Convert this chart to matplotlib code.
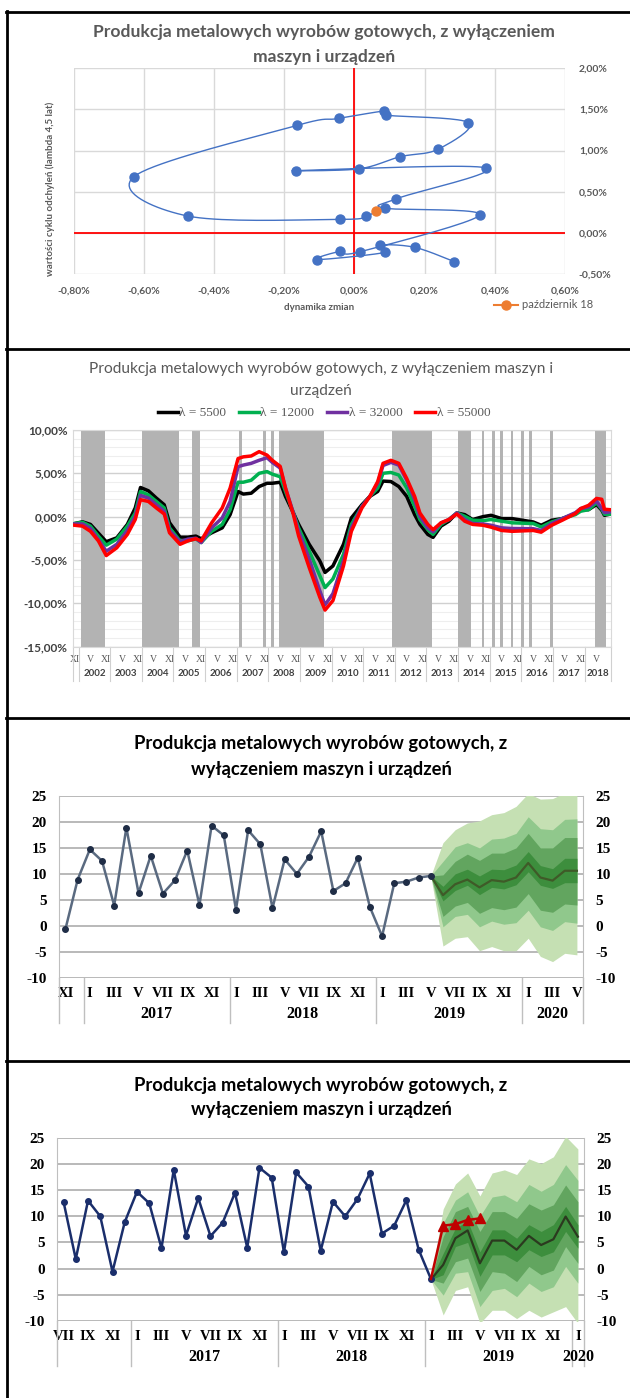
import numpy as np
import matplotlib
matplotlib.use("Agg")
import matplotlib.pyplot as plt
from matplotlib.lines import Line2D
from matplotlib.transforms import blended_transform_factory

# ---- panel 1: cycle vs. dynamics (%), Oct 2016 .. Oct 2018 ----
cycle_dyn = [0.285, 0.172, 0.074, 0.088, -0.107, -0.041, 0.016, 0.357, 0.087, 0.12,
             0.375, -0.166, 0.012, 0.131, 0.238, 0.325, 0.091, 0.085, -0.045, -0.164,
             -0.628, -0.475, -0.041, 0.034, 0.063]
cycle_val = [-0.35, -0.176, -0.15, -0.237, -0.325, -0.225, -0.23, 0.217, 0.30, 0.415,
             0.79, 0.756, 0.777, 0.926, 1.015, 1.34, 1.43, 1.48, 1.39, 1.305,
             0.683, 0.205, 0.164, 0.205, 0.27]

# ---- panel 2: HP cycles (%), month index counted from Nov 2001 ----
hp_month = [0, 3, 6, 9, 12, 16, 20, 23, 25, 28, 31, 34, 36, 40, 43, 46, 48, 52, 56, 59,
            62, 64, 67, 70, 73, 75, 78, 80, 83, 85, 89, 93, 95, 98, 102, 105, 109, 112, 115, 117,
            120, 123, 126, 129, 131, 134, 136, 139, 142, 145, 148, 151, 155, 158, 162, 166,
            174, 177, 181, 185, 190, 192, 195, 198, 200, 201, 203]
hp_5500 = [-0.8, -0.6, -0.9, -1.9, -2.9, -2.45, -0.9, 1.0, 3.36, 2.98, 2.14, 1.37, -0.7, -2.37, -2.37, -2.25, -2.56, -1.87, -1.3, 0.23,
           2.9, 2.6, 2.7, 3.47, 3.85, 3.85, 3.97, 2.33, 0.42, -0.9, -3.2, -5.1, -6.45, -5.7, -3.2, -0.15, 1.37, 2.33, 2.9, 4.1,
           4.05, 3.47, 2.33, 0.23, -0.9, -2.06, -2.4, -1.1, -0.53, 0.42, 0.23, -0.34, 0.0, 0.15, -0.23, -0.23,
           -0.62, -1.0, -0.42, -0.23, 0.35, 0.8, 0.8, 1.4, 0.73, 0.15, 0.27]
hp_12000 = [-0.8, -0.65, -1.1, -2.25, -3.3, -2.6, -1.1, 0.42, 2.9, 2.5, 1.75, 1.0, -1.3, -2.8, -2.8, -2.56, -3.0, -1.7, -0.9, 0.8,
            3.97, 3.97, 4.2, 5.0, 5.2, 4.9, 4.6, 2.9, 0.42, -1.3, -3.97, -6.8, -8.2, -7.2, -4.35, -0.9, 1.18, 2.33, 3.3, 5.0,
            5.1, 4.8, 3.3, 1.18, -0.34, -1.5, -2.06, -0.9, -0.34, 0.42, 0.04, -0.42, -0.46, -0.34, -0.53, -0.72,
            -0.8, -1.2, -0.62, -0.23, 0.23, 0.62, 0.8, 1.6, 0.85, 0.27, 0.27]
hp_32000 = [-0.85, -0.85, -1.37, -2.63, -4.0, -3.2, -1.6, 0.04, 2.45, 2.14, 1.37, 0.6, -1.6, -2.9, -2.6, -2.5, -3.0, -1.3, -0.15, 1.75,
            5.76, 5.95, 6.15, 6.5, 6.8, 6.26, 5.6, 3.3, 0.42, -1.7, -4.9, -8.55, -10.2, -8.9, -5.1, -1.3, 1.18, 2.33, 3.85, 5.9,
            6.26, 5.95, 4.2, 1.95, 0.04, -1.3, -1.75, -0.72, -0.34, 0.42, -0.34, -0.8, -0.85, -1.0, -1.3, -1.37,
            -1.4, -1.6, -0.8, -0.23, 0.46, 0.93, 1.1, 1.8, 0.93, 0.46, 0.54]
hp_55000 = [-1.0, -1.1, -1.7, -2.8, -4.5, -3.6, -2.06, -0.34, 1.95, 1.75, 1.0, 0.3, -1.87, -3.2, -2.8, -2.56, -2.8, -0.72, 1.0, 3.3,
            6.7, 6.9, 7.0, 7.5, 7.1, 6.5, 5.8, 3.3, 0.23, -2.25, -5.88, -9.3, -10.8, -9.7, -5.7, -1.7, 1.0, 2.33, 4.05, 6.15,
            6.5, 6.15, 4.4, 2.33, 0.42, -0.9, -1.5, -0.72, -0.34, 0.3, -0.53, -0.9, -1.0, -1.22, -1.6, -1.7,
            -1.6, -1.8, -1.0, -0.42, 0.35, 0.93, 1.3, 2.1, 2.0, 0.85, 0.8]
hp_labels = ["λ = 5500", "λ = 12000", "λ = 32000", "λ = 55000"]
rec_start = ["2002-02", "2004-01", "2005-08", "2007-02", "2007-11", "2008-02", "2008-05", "2011-12", "2014-01",
             "2014-10", "2015-02", "2015-05", "2015-09", "2016-01", "2016-04", "2016-12", "2018-05"]
rec_end = ["2002-10", "2005-02", "2005-10", "2007-02", "2007-11", "2008-02", "2009-09", "2013-02", "2014-05",
           "2014-10", "2015-02", "2015-05", "2015-09", "2016-01", "2016-04", "2016-12", "2018-08"]

# ---- panels 3, 4: y/y production, Jul 2016 .. May 2019 ----
prod_yoy = [12.8, 1.8, 13.0, 10.0, -0.6, 8.9,
            14.7, 12.5, 3.9, 18.9, 6.3, 13.5, 6.2, 8.8, 14.5, 4.0, 19.3, 17.4,
            3.1, 18.4, 15.7, 3.4, 12.8, 10.0, 13.3, 18.2, 6.7, 8.2, 13.1, 3.6,
            -2.0, 8.2, 8.5, 9.3, 9.6]

# fan from May 2019 to May 2020 (panel 3)
fan3_c = [9.6, 5.9, 8.0, 8.9, 7.4, 8.8, 8.5, 9.3, 12.1, 9.3, 8.7, 10.6, 10.6]
fan3_u1 = [9.6, 7.6, 10.0, 10.9, 9.6, 10.9, 10.8, 11.7, 14.3, 11.6, 11.0, 13.0, 13.0]
fan3_u2 = [9.6, 9.8, 12.4, 13.8, 12.6, 14.0, 14.0, 15.0, 17.8, 15.0, 15.0, 17.0, 17.0]
fan3_u3 = [9.6, 12.4, 15.2, 16.0, 15.0, 16.7, 16.9, 17.8, 21.0, 18.7, 18.5, 20.5, 20.6]
fan3_u4 = [9.6, 16.0, 18.5, 19.8, 20.2, 21.4, 21.8, 23.0, 25.5, 24.4, 24.5, 25.6, 25.5]
fan3_l1 = [9.6, 4.8, 6.8, 7.8, 6.0, 7.4, 7.1, 7.9, 10.4, 7.8, 7.2, 8.3, 8.3]
fan3_l2 = [9.6, 1.8, 3.8, 4.5, 2.4, 3.5, 3.1, 3.6, 6.2, 3.0, 2.6, 4.2, 4.0]
fan3_l3 = [9.6, -0.2, 1.8, 2.2, -0.2, 0.9, 0.3, 0.6, 3.0, -0.2, -0.9, 0.8, 0.5]
fan3_l4 = [9.6, -3.9, -2.4, -2.1, -4.8, -4.0, -4.8, -4.8, -2.4, -5.9, -6.9, -5.3, -5.6]

# fan from Jan 2019 to Jan 2020 (panel 4)
fan4_c = [-2.1, 0.7, 5.8, 7.3, 1.0, 5.35, 5.35, 3.6, 6.25, 4.5, 5.6, 9.95, 6.1]
fan4_u1 = [-2.1, 2.9, 7.7, 9.1, 3.2, 7.4, 7.4, 5.8, 8.4, 7.1, 8.4, 11.9, 8.4]
fan4_u2 = [-2.1, 6.1, 10.9, 11.9, 7.1, 10.9, 10.9, 9.6, 12.4, 11.2, 12.2, 16.0, 12.8]
fan4_u3 = [-2.1, 8.7, 13.1, 14.7, 10.0, 13.7, 14.1, 12.8, 16.1, 14.8, 16.1, 19.9, 16.9]
fan4_u4 = [-2.1, 11.4, 16.2, 18.3, 13.9, 18.3, 18.9, 18.0, 21.0, 20.1, 21.4, 25.3, 22.9]
fan4_l1 = [-2.1, -1.2, 4.2, 5.0, -1.5, 2.6, 2.6, 1.3, 3.6, 2.3, 3.2, 7.1, 3.9]
fan4_l2 = [-2.1, -2.8, 1.3, 2.0, -4.4, -0.6, -0.9, -2.5, 0.4, -1.2, -0.3, 4.2, 1.0]
fan4_l3 = [-2.1, -5.1, -0.9, -0.6, -7.3, -4.2, -3.8, -5.4, -2.8, -4.4, -3.5, 0.4, -2.8]
fan4_l4 = [-2.1, -8.9, -4.2, -3.5, -10.5, -8.0, -8.0, -9.6, -8.0, -9.3, -8.3, -7.3, -10.5]

ROMAN = ["I", "II", "III", "IV", "V", "VI", "VII", "VIII", "IX", "X", "XI", "XII"]
SANS = ["Lato", "DejaVu Sans"]
SERIF = ["Liberation Serif", "DejaVu Serif"]
plt.rcParams["font.family"] = SANS

W, H = 630, 1398
fig = plt.figure(figsize=(W / 100, H / 100), dpi=100)


def fy(y):
    return 1 - y / H


def add_ax(l, t, r, b):
    return fig.add_axes([l / W, 1 - b / H, (r - l) / W, (b - t) / H])


def pct(v):
    if abs(v) < 1e-9:
        v = 0.0
    return f"{v:.2f}%".replace(".", ",")


def smooth_path(xs, ys, n=20):
    # Catmull-Rom curve through the points (like Excel's smoothed line)
    pts = np.column_stack([xs, ys])
    p = np.vstack([pts[0], pts, pts[-1]])
    t = np.linspace(0, 1, n, endpoint=False)[:, None]
    out = []
    for i in range(1, len(p) - 2):
        p0, p1, p2, p3 = p[i - 1], p[i], p[i + 1], p[i + 2]
        out.append(0.5 * (2 * p1 + (p2 - p0) * t + (2 * p0 - 5 * p1 + 4 * p2 - p3) * t ** 2
                          + (3 * p1 - p0 - 3 * p2 + p3) * t ** 3))
    out.append(pts[-1:])
    return np.vstack(out)


def month_idx(s, y0, m0):
    y, m = map(int, s.split("-"))
    return (y - y0) * 12 + (m - m0)


# frame lines
fig.add_artist(Line2D([6.5 / W, 6.5 / W], [fy(11), 0], color="black", lw=2))
for yy in [11.5, 348.5, 718, 1061]:
    fig.add_artist(Line2D([6 / W, 1], [fy(yy), fy(yy)], color="black", lw=2))

# ================= panel 1 =================
ax1 = add_ax(73.5, 68.3, 565, 274)
ax1.set_xlim(-0.8, 0.6)
ax1.set_ylim(-0.5, 2.0)
xt = np.round(np.arange(-0.8, 0.61, 0.2), 2)
yt = np.round(np.arange(-0.5, 2.01, 0.5), 2)
ax1.set_xticks(xt, [pct(v) for v in xt], fontweight="bold", color="#595959", fontsize=7.5)
ax1.set_yticks(yt, [pct(v) for v in yt], fontweight="bold", color="#595959", fontsize=7.5)
ax1.yaxis.tick_right()
ax1.tick_params(axis="x", length=0, pad=9)
ax1.tick_params(axis="y", length=0, pad=10)
ax1.grid(True, color="#d9d9d9", lw=1)
ax1.set_axisbelow(True)
for s in ax1.spines.values():
    s.set_visible(False)
ax1.axvline(0, color="#ff0000", lw=1.3, zorder=2)
ax1.axhline(0, color="#ff0000", lw=1.3, zorder=2)
path = smooth_path(cycle_dyn, cycle_val)
ax1.plot(path[:, 0], path[:, 1], color="#4472c4", lw=1, zorder=3)
ax1.plot(cycle_dyn[:-1], cycle_val[:-1], "o", color="#4472c4", ms=6.5, zorder=4)
last, = ax1.plot(cycle_dyn[-1:], cycle_val[-1:], "o-", color="#ed7d31", ms=6.5, zorder=5)
ax1.legend([last], ["październik 18"], loc="center left", bbox_to_anchor=(484 / W, fy(305)),
           bbox_transform=fig.transFigure, frameon=False, handlelength=2.2, handletextpad=0.3,
           prop={"family": SANS, "size": 8}, labelcolor="#595959")
fig.text(324 / W, fy(32), "Produkcja metalowych wyrobów gotowych, z wyłączeniem",
         ha="center", va="center", fontsize=12.6, fontweight="bold", color="#595959")
fig.text(324 / W, fy(57), "maszyn i urządzeń",
         ha="center", va="center", fontsize=12.6, fontweight="bold", color="#595959")
fig.text(319 / W, fy(307), "dynamika zmian", ha="center", va="center",
         fontsize=7, fontweight="bold", color="#595959")
fig.text(50 / W, fy(189), "wartości cyklu odchyleń (lambda 4,5 lat)", ha="center", va="center",
         rotation=90, fontsize=7, fontweight="bold", color="#595959")

# ================= panel 2 =================
ax2 = add_ax(73.3, 430, 611, 646.5)
n_months = 204
ax2.set_xlim(0, n_months)
ax2.set_ylim(-15, 10)
for a, b in zip(rec_start, rec_end):
    ax2.axvspan(month_idx(a, 2001, 11), month_idx(b, 2001, 11) + 1, color="#b3b3b3", lw=0, zorder=1)
ax2.set_yticks(np.arange(-15, 11, 1), minor=True)
yt2 = np.arange(-15, 11, 5)
ax2.set_yticks(yt2, [pct(v) for v in yt2], fontweight="bold", color="#404040", fontsize=8.5)
ax2.grid(True, axis="y", which="minor", color="#eeeeee", lw=0.8, zorder=0)
ax2.grid(True, axis="y", which="major", color="#d0d0d0", lw=1, zorder=0)
ax2.set_axisbelow(True)
ax2.tick_params(axis="y", which="both", length=0, pad=4)
for s in ax2.spines.values():
    s.set_color("#d9d9d9")
hx = np.array(hp_month) + 0.5
colors2 = ["#000000", "#00b050", "#7030a0", "#ff0000"]
handles = []
for vals, col, lab in zip([hp_5500, hp_12000, hp_32000, hp_55000], colors2, hp_labels):
    h, = ax2.plot(hx, vals, color=col, lw=2.5, zorder=3, label=lab)
    handles.append(h)
mt = np.arange(0, n_months, 6)
ax2.set_xticks(mt + 0.5, [ROMAN[(10 + i) % 12] for i in mt], family=SERIF, fontsize=7, color="#595959")
ax2.tick_params(axis="x", length=0, pad=6)
tr2 = blended_transform_factory(ax2.transData, fig.transFigure)
for yr in range(2002, 2019):
    s0 = max(0, (yr - 2001) * 12 - 10)
    s1 = min(n_months, s0 + 12)
    ax2.text((s0 + s1) / 2, fy(674), str(yr), transform=tr2, ha="center", va="center",
             fontsize=7, fontweight="bold", color="#404040")
for xb in [0] + list(range(2, n_months, 12)) + [n_months]:
    ax2.add_line(Line2D([xb, xb], [fy(646.5), fy(681)], transform=tr2, color="#d0d0d0",
                        lw=0.8, clip_on=False))
fig.legend(handles=handles, loc="center", bbox_to_anchor=(324 / W, fy(413)), ncol=4, frameon=False,
           handlelength=1.5, handletextpad=0.1, columnspacing=1.0,
           prop={"family": SERIF, "size": 9.5}, labelcolor="#595959")
fig.text(321 / W, fy(369), "Produkcja metalowych wyrobów gotowych, z wyłączeniem maszyn i",
         ha="center", va="center", fontsize=11.2, color="#595959")
fig.text(321 / W, fy(391), "urządzeń", ha="center", va="center", fontsize=11.2, color="#595959")


# ================= panels 3 & 4 =================
FAN_COLORS = ["#c5e0b3", "#90c88c", "#62a55f", "#3d8e3d"]


def fan_panel(l, t, r, b, start_month, actual, line_col, dot_col, fan, center_col, title_y):
    ax = add_ax(l, t, r, b)
    n = 43
    ax.set_xlim(0, n)
    ax.set_ylim(-10, 25)
    yt = np.arange(-10, 26, 5)
    ax.set_yticks(yt, [str(v) for v in yt], family=SERIF, fontweight="bold", fontsize=11)
    ax.tick_params(axis="y", length=0, labelright=True, pad=9)
    ax.grid(True, axis="y", color="#a6a6a6", lw=1.1)
    ax.set_axisbelow(True)
    for k in ["top", "bottom"]:
        ax.spines[k].set_visible(False)
    for k in ["left", "right"]:
        ax.spines[k].set_color("#bfbfbf")
    fx = np.arange(30, 43) + 0.5
    c, u1, u2, u3, u4, l1, l2, l3, l4 = fan
    for lo, hi, col in zip([l4, l3, l2, l1], [u4, u3, u2, u1], FAN_COLORS):
        ax.fill_between(fx, lo, hi, color=col, lw=0, zorder=1)
    ax.plot(fx, c, color=center_col, lw=1.6, zorder=2)
    ax.plot(np.arange(len(actual)) + 0.5, actual, color=line_col, lw=1.8, zorder=3,
            marker="o", ms=4, mfc=dot_col, mec=dot_col)
    mt = np.arange(0, n, 2)
    ax.set_xticks(mt + 0.5, [ROMAN[(start_month - 1 + i) % 12] for i in mt],
                  family=SERIF, fontweight="bold", fontsize=10.5)
    ax.tick_params(axis="x", length=0, pad=7)
    tr = blended_transform_factory(ax.transData, fig.transFigure)
    jan = [i for i in range(n) if (start_month - 1 + i) % 12 == 0]
    for j in jan:
        yr = 2016 + (start_month - 1 + j) // 12
        ax.text((j + min(n, j + 12)) / 2, fy(b + 36), str(yr), transform=tr, ha="center", va="center",
                family=SERIF, fontweight="bold", fontsize=11.5)
    for xb in [0] + jan + [n]:
        ax.add_line(Line2D([xb, xb], [fy(b), fy(b + 45)], transform=tr, color="#bfbfbf",
                           lw=1, clip_on=False))
    fig.text(321 / W, fy(title_y), "Produkcja metalowych wyrobów gotowych, z",
             ha="center", va="center", fontsize=13.2, fontweight="bold")
    fig.text(321 / W, fy(title_y + 25), "wyłączeniem maszyn i urządzeń",
             ha="center", va="center", fontsize=13.2, fontweight="bold")
    return ax


fan_panel(59.4, 796, 583, 977.7, 11, prod_yoy[4:], "#5a6a80", "#1f2d46",
          [fan3_c, fan3_u1, fan3_u2, fan3_u3, fan3_u4, fan3_l1, fan3_l2, fan3_l3, fan3_l4],
          "#3f5a28", 744)
ax4 = fan_panel(57.4, 1138, 584, 1320.7, 7, prod_yoy[:31], "#1a2e6b", "#1a2e6b",
                [fan4_c, fan4_u1, fan4_u2, fan4_u3, fan4_u4, fan4_l1, fan4_l2, fan4_l3, fan4_l4],
                "#2b3a1f", 1085)
ax4.plot(np.arange(30, 35) + 0.5, prod_yoy[30:35], color="#c00000", lw=1.8, marker="^", ms=7,
         markevery=[1, 2, 3, 4], zorder=4)

fig.savefig("out.png", dpi=100)
